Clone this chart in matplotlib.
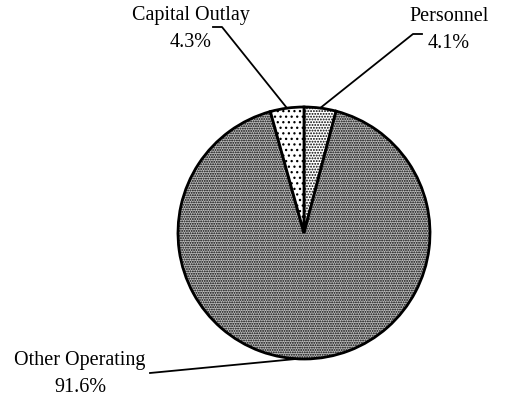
import numpy as np
import matplotlib.pyplot as plt

labels = ['Personnel', 'Other Operating', 'Capital Outlay']
shares = [4.1, 91.6, 4.3]
hatches = ['......', '.......', '...']
fills = ['white', '#bdbdbd', 'white']

plt.rcParams['font.family'] = ['Liberation Serif', 'DejaVu Serif']
plt.rcParams['hatch.linewidth'] = 0.9

fig = plt.figure(figsize=(5.09, 4.02), dpi=100)
# pie centre ~ (304, 234) px from top-left, radius ~126 px
cx, cy, r = 304, 234, 126
ax = fig.add_axes([(cx - r) / 509, (402 - cy - r) / 402, 2 * r / 509, 2 * r / 402])
wedges, _ = ax.pie(shares, startangle=90, counterclock=False, radius=1,
                   wedgeprops=dict(edgecolor='black', linewidth=2))
for w, h, f in zip(wedges, hatches, fills):
    w.set_hatch(h)
    w.set_facecolor(f)
ax.set_xlim(-1, 1)
ax.set_ylim(-1, 1)
ax.axis('off')


def px(x, y):
    # image pixel -> data coords
    return (x - cx) / r, (cy - y) / r


def edge(w, frac=0.5):
    a = np.deg2rad(w.theta1 + (w.theta2 - w.theta1) * frac)
    return np.cos(a), np.sin(a)


# leader lines
ex, ey = edge(wedges[2])
p1, p2 = px(213, 28), px(222, 28)
ax.plot([p1[0], p2[0], ex], [p1[1], p2[1], ey], color='black', lw=1.3, clip_on=False)

ex, ey = edge(wedges[0])
p1, p2 = px(422, 35), px(413, 35)
ax.plot([p1[0], p2[0], ex], [p1[1], p2[1], ey], color='black', lw=1.3, clip_on=False)

ex, ey = edge(wedges[1], 0.49)
p1 = px(150, 374)
ax.plot([p1[0], ex], [p1[1], ey], color='black', lw=1.3, clip_on=False)

# text labels
for name, val, (tx, ty) in zip(labels, shares, [(449, 30), (80, 374), (191, 29)]):
    x, y = px(tx, ty)
    ax.text(x, y, f'{name}\n{val:.1f}%', ha='center', va='center',
            fontsize=14.5, linespacing=1.55, clip_on=False)

fig.savefig('out.png', dpi=100)
